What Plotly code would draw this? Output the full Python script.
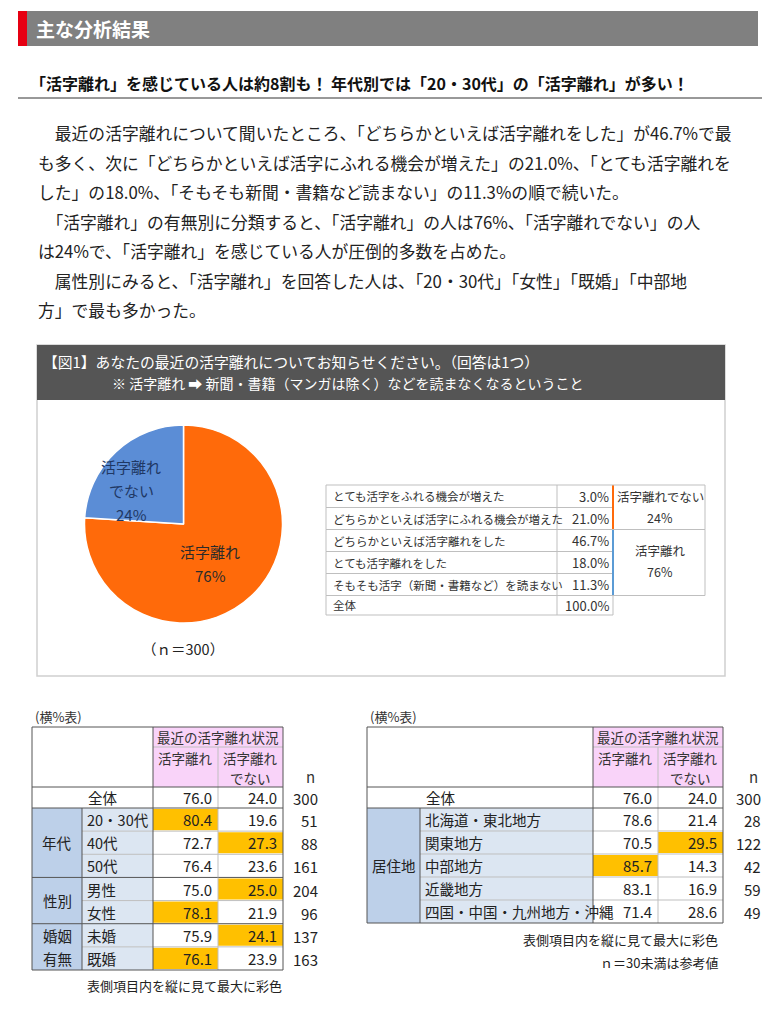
import plotly.graph_objects as go

FONT = "Noto Sans CJK JP"
W, H = 774, 1024

# ---------------- data ----------------
header_title = "主な分析結果"
headline = "「活字離れ」を感じている人は約8割も！ 年代別では「20・30代」の「活字離れ」が多い！"
paragraph_lines = [
    "　最近の活字離れについて聞いたところ、「どちらかといえば活字離れをした」が46.7%で最",
    "も多く、次に「どちらかといえば活字にふれる機会が増えた」の21.0%、「とても活字離れを",
    "した」の18.0%、「そもそも新聞・書籍など読まない」の11.3%の順で続いた。",
    "　「活字離れ」の有無別に分類すると、「活字離れ」の人は76%、「活字離れでない」の人",
    "は24%で、「活字離れ」を感じている人が圧倒的多数を占めた。",
    "　属性別にみると、「活字離れ」を回答した人は、「20・30代」「女性」「既婚」「中部地",
    "方」で最も多かった。",
]
fig_title_1 = "【図1】あなたの最近の活字離れについてお知らせください。（回答は1つ）"
fig_title_2 = "※ 活字離れ ➡ 新聞・書籍（マンガは除く）などを読まなくなるということ"

pie_labels = ["活字離れ", "活字離れでない"]
pie_values = [76, 24]
pie_text_lines = [["活字離れ", "76%"], ["活字離れ", "でない", "24%"]]
sample_note = "（ｎ＝300）"

answer_labels = [
    "とても活字をふれる機会が増えた",
    "どちらかといえば活字にふれる機会が増えた",
    "どちらかといえば活字離れをした",
    "とても活字離れをした",
    "そもそも活字（新聞・書籍など）を読まない",
    "全体",
]
answer_pcts = [3.0, 21.0, 46.7, 18.0, 11.3, 100.0]
answer_group_names = ["活字離れでない", "活字離れ"]
answer_group_pcts = [24, 76]
answer_group_rows = [2, 3]

table_caption = "(横%表)"
table_super_header = "最近の活字離れ状況"
col_headers = [["活字離れ"], ["活字離れ", "でない"]]
overall_label = "全体"
overall_vals = [76.0, 24.0]
overall_n = 300

attr_groups = ["年代", "年代", "年代", "性別", "性別", "婚姻|有無", "婚姻|有無"]
attr_labels = ["20・30代", "40代", "50代", "男性", "女性", "未婚", "既婚"]
attr_yes = [80.4, 72.7, 76.4, 75.0, 78.1, 75.9, 76.1]
attr_no = [19.6, 27.3, 23.6, 25.0, 21.9, 24.1, 23.9]
attr_n = [51, 88, 161, 204, 96, 137, 163]

region_groups = ["居住地"] * 5
region_labels = ["北海道・東北地方", "関東地方", "中部地方", "近畿地方", "四国・中国・九州地方・沖縄"]
region_yes = [78.6, 70.5, 85.7, 83.1, 71.4]
region_no = [21.4, 29.5, 14.3, 16.9, 28.6]
region_n = [28, 122, 42, 59, 49]

note_color = "表側項目内を縦に見て最大に彩色"
note_small_n = "ｎ＝30未満は参考値"

# ---------------- style ----------------
ORANGE = "#FF6A0A"
BLUE = "#5B8DD6"
GOLD = "#FFC000"
PINK = "#F9D3F9"
GROUP_BLUE = "#BDD0E9"
LABEL_BLUE = "#DCE6F2"
DARK = "#555555"
LIGHT = "#BFBFBF"
TXT = "#222222"

fig = go.Figure()
fig.add_trace(go.Scatter(x=[], y=[], showlegend=False, hoverinfo="skip"))

shapes = []
annos = []


def rect(x0, y0, x1, y1, fill=None, line=None, lw=1):
    shapes.append(dict(type="rect", xref="x", yref="y", x0=x0, y0=y0, x1=x1, y1=y1,
                       fillcolor=fill if fill else "rgba(0,0,0,0)",
                       line=dict(color=line if line else "rgba(0,0,0,0)", width=lw if line else 0),
                       layer="above"))


def seg(x0, y0, x1, y1, color, lw=1):
    shapes.append(dict(type="line", xref="x", yref="y", x0=x0, y0=y0, x1=x1, y1=y1,
                       line=dict(color=color, width=lw), layer="above"))


def text(x, y, s, size=13, color=TXT, anchor="left", bold=False, valign="middle"):
    if bold:
        s = "<b>" + s + "</b>"
    annos.append(dict(x=x, y=y, xref="x", yref="y", text=s, showarrow=False,
                      xanchor=anchor, yanchor=valign, align=anchor if anchor != "center" else "center",
                      font=dict(family=FONT, size=size, color=color)))


def text_lines(x, yc, lines, spacing, **kw):
    n = len(lines)
    for k, s in enumerate(lines):
        text(x, yc + (k - (n - 1) / 2) * spacing, s, **kw)


# ---- header bar ----
rect(18, 11, 758, 46, fill="#808080")
rect(18, 11, 27, 46, fill="#E60012")
text(34, 28.5, header_title, size=19, color="white", bold=True)

# ---- headline ----
text(28, 83, headline, size=16, color="#111111", bold=True)
seg(18, 98, 762, 98, "#333333", 1)

# ---- paragraph ----
line_y0, line_dy = 133, 29.5
for i, s in enumerate(paragraph_lines):
    text(36, line_y0 + i * line_dy, s, size=16.8, color="#222222")

# ---- figure box ----
BX0, BX1, BY0, BYH, BY1 = 37, 725, 345, 400, 676
rect(BX0, BY0, BX1, BY1, line="#D0D0D0", lw=1.5)
rect(BX0, BY0, BX1, BYH, fill="#555555")
text(41, 361, fig_title_1, size=14.8, color="white")
text(110, 383, fig_title_2, size=14, color="white")

# pie
pcx, pcy, pr = 183.5, 524, 99
fig.add_trace(go.Pie(
    labels=pie_labels, values=pie_values, sort=False, direction="clockwise", rotation=0,
    marker=dict(colors=[ORANGE, BLUE], line=dict(color="white", width=1.5)),
    textinfo="none", hoverinfo="skip", showlegend=False,
    domain=dict(x=[(pcx - pr) / W, (pcx + pr) / W], y=[1 - (pcy + pr) / H, 1 - (pcy - pr) / H]),
))
text_lines(210, 563, pie_text_lines[0], 24, size=15, color="#2A2A2A", anchor="center")
text_lines(131, 490, pie_text_lines[1], 24, size=15, color="#1F3864", anchor="center")
text(183, 648, sample_note, size=14.5, color="#222222", anchor="center")

# answer mini table
MX0, MX1, MX2, MX3 = 326, 557, 613, 705
my_edges = [485, 507.5, 529.5, 551.5, 573.5, 595.5, 615]
for i, (lab, p) in enumerate(zip(answer_labels, answer_pcts)):
    y0, y1 = my_edges[i], my_edges[i + 1]
    rect(MX0, y0, MX2, y1, line=LIGHT, lw=1)
    seg(MX1, y0, MX1, y1, LIGHT, 1)
    text(MX0 + 5, (y0 + y1) / 2, lab, size=11.5, color="#333333")
    text(MX2 - 2, (y0 + y1) / 2, f"{p:.1f}%", size=13, color="#333333", anchor="right")
row = 0
gcolors = [ORANGE, "#5B9BD5"]
for g, (name, pct, nrows) in enumerate(zip(answer_group_names, answer_group_pcts, answer_group_rows)):
    y0, y1 = my_edges[row], my_edges[row + nrows]
    rect(MX2, y0, MX3, y1, line=LIGHT, lw=1)
    seg(MX2, y0 + 0.5, MX2, y1 - 0.5, gcolors[g], 2)
    yc = (y0 + y1) / 2 + (-0.5 if g == 0 else -2)
    text_lines((MX2 + MX3) / 2 + 1, yc, [name, f"{pct}%"], 21, size=12.5, color="#333333", anchor="center")
    row += nrows


# ---- cross tables ----
def draw_table(xe, top, body_end, nx, groups, labels, yes, no, ns, caption_x):
    x0, xg, xl, xd, xr = xe
    h1, h2, ht = 20, 40, 21
    rh = (body_end - (top + h1 + h2 + ht)) / len(labels)
    text(caption_x, top - 11, table_caption, size=13, color="#333333")
    # header
    rect(xl, top, xr, top + h1 + h2, fill=PINK)
    text((xl + xr) / 2, top + h1 / 2, table_super_header, size=13.5, color="#333333", anchor="center")
    text_lines((xl + xd) / 2, top + h1 + 10.5, col_headers[0], 20, size=13.5, color="#333333", anchor="center")
    text_lines((xd + xr) / 2, top + h1 + 20.5, col_headers[1], 20, size=13.5, color="#333333", anchor="center")
    seg(xl, top + h1, xr, top + h1, LIGHT)
    seg(xd, top + h1, xd, top + h1 + h2, LIGHT)
    text(nx - 10, top + h1 + h2 - 11, "n", size=15, color="#333333", anchor="center")
    # overall row
    ry = top + h1 + h2
    text(xg + 4, ry + ht / 2, overall_label, size=14.5, color="#222222")
    text(xd - 4, ry + ht / 2, f"{overall_vals[0]:.1f}", size=15, color="#222222", anchor="right")
    text(xr - 4, ry + ht / 2, f"{overall_vals[1]:.1f}", size=15, color="#222222", anchor="right")
    text(nx, ry + ht / 2 + 1, str(overall_n), size=15, color="#222222", anchor="right")
    seg(xd, ry, xd, ry + ht, LIGHT)
    body0 = ry + ht
    # group spans
    spans = []
    for i, g in enumerate(groups):
        if spans and spans[-1][0] == g:
            spans[-1][2] = i
        else:
            spans.append([g, i, i])
    for g, i0, i1 in spans:
        ya, yb = body0 + i0 * rh, body0 + (i1 + 1) * rh
        rect(x0, ya, xg, yb, fill=GROUP_BLUE)
        text_lines((x0 + xg) / 2, (ya + yb) / 2, g.split("|"), 23, size=14.5, color="#222222", anchor="center")
        ymax = yes[i0:i1 + 1]
        nmax = no[i0:i1 + 1]
        for i in range(i0, i1 + 1):
            y0, y1 = body0 + i * rh, body0 + (i + 1) * rh
            rect(xg, y0, xl, y1, fill=LABEL_BLUE)
            if yes[i] == max(ymax):
                rect(xl, y0 + 1, xd, y1 - 1, fill=GOLD)
            if no[i] == max(nmax):
                rect(xd, y0 + 1, xr, y1 - 1, fill=GOLD)
            yc = (y0 + y1) / 2
            text(xg + 3, yc, labels[i], size=14.5, color="#222222")
            text(xd - 4, yc, f"{yes[i]:.1f}", size=15, color="#222222", anchor="right")
            text(xr - 4, yc, f"{no[i]:.1f}", size=15, color="#222222", anchor="right")
            text(nx, yc + 1, str(ns[i]), size=15, color="#222222", anchor="right")
            if i > i0:
                seg(xg, y0, xr, y0, LIGHT)
        if i0 > 0:
            seg(x0, ya, xr, ya, DARK)
        seg(xg, ya, xg, yb, DARK)
        seg(xd, ya, xd, yb, LIGHT)
    bottom = body0 + len(labels) * rh
    seg(x0, ry, xr, ry, DARK)
    seg(x0, body0, xr, body0, DARK)
    seg(xl, top, xl, bottom, DARK)
    rect(x0, top, xr, bottom, line=DARK, lw=1)
    return bottom


draw_table([32, 82, 153, 218, 283], 727, 970, 320, attr_groups, attr_labels, attr_yes, attr_no, attr_n, 33)
text(184, 985, note_color, size=13, color="#222222", anchor="center")

draw_table([367, 420, 593, 658, 723], 727, 923, 763, region_groups, region_labels, region_yes, region_no, region_n, 368)
text(720, 939, note_color, size=13, color="#222222", anchor="right")
text(720, 962, note_small_n, size=13, color="#222222", anchor="right")

fig.update_layout(
    width=W, height=H, margin=dict(l=0, r=0, t=0, b=0),
    paper_bgcolor="white", plot_bgcolor="rgba(0,0,0,0)",
    xaxis=dict(range=[0, W], visible=False, fixedrange=True),
    yaxis=dict(range=[H, 0], visible=False, fixedrange=True),
    shapes=shapes, annotations=annos, showlegend=False,
)

fig.write_html("out.html", config={"displayModeBar": False},
               post_script="document.body.style.margin='0';")
